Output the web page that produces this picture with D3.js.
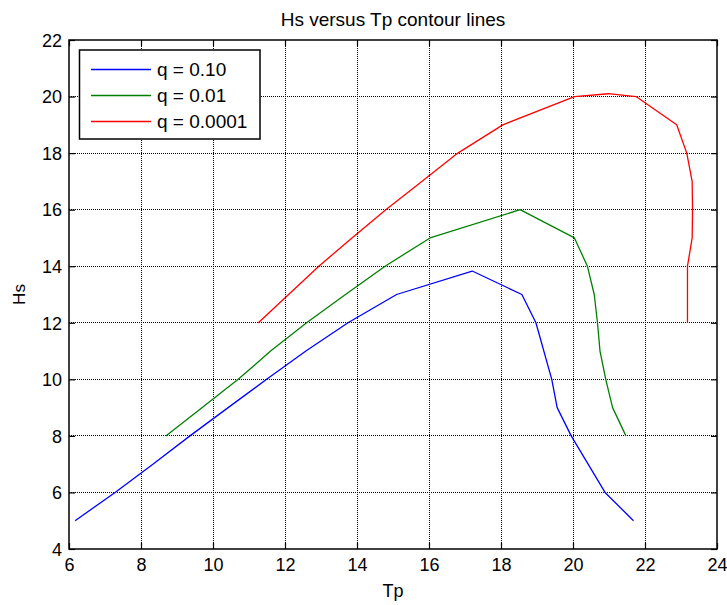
<!DOCTYPE html>
<html>
<head>
<meta charset="utf-8">
<script src="https://cdn.jsdelivr.net/npm/d3@7"></script>
<style>
  html, body { margin: 0; padding: 0; background: #fff; }
  svg { display: block; }
  text { font-family: Arial, "Liberation Sans", Helvetica, sans-serif; fill: #000; }
</style>
</head>
<body>
<svg id="chart" width="727" height="605"></svg>
<script>
// ---- data ----
const titleText = "Hs versus Tp contour lines";
const xLabel = "Tp";
const yLabel = "Hs";
const xTicks = [6, 8, 10, 12, 14, 16, 18, 20, 22, 24];
const yTicks = [4, 6, 8, 10, 12, 14, 16, 18, 20, 22];
const seriesNames = ["q = 0.10", "q = 0.01", "q = 0.0001"];
const seriesColors = ["#0000ff", "#008000", "#ff0000"];

const tpQ10 = [6.17, 7.28, 8.33, 9.36, 10.42, 11.49, 12.58, 13.75, 15.10, 17.20, 18.58, 18.97, 19.41, 19.56, 19.95, 20.89, 21.68];
const hsQ10 = [5, 6, 7, 8, 9, 10, 11, 12, 13, 13.83, 13, 12, 10, 9, 8, 6, 5];

const tpQ01 = [8.69, 9.7, 10.7, 11.6, 12.6, 13.68, 14.78, 16.03, 18.53, 20.04, 20.4, 20.59, 20.68, 20.75, 20.91, 21.10, 21.47];
const hsQ01 = [8, 9, 10, 11, 12, 13, 14, 15, 16, 15, 14, 13, 12, 11, 10, 9, 8];

const tpQ0001 = [11.26, 12.1, 12.94, 13.86, 14.8, 15.8, 16.8, 18.05, 20.04, 20.98, 21.75, 22.88, 23.16, 23.31, 23.32, 23.31, 23.18, 23.18, 23.18];
const hsQ0001 = [12, 13, 14, 15, 16, 17, 18, 19, 20, 20.1, 20, 19, 18, 17, 16, 15, 14, 13, 12];

const seriesTp = [tpQ10, tpQ01, tpQ0001];
const seriesHs = [hsQ10, hsQ01, hsQ0001];

// ---- layout ----
const pL = 69, pR = 717, pT = 40, pB = 549;
const svg = d3.select("#chart");
const x = d3.scaleLinear().domain([6, 24]).range([pL, pR]);
const y = d3.scaleLinear().domain([4, 22]).range([pB, pT]);

// grid
const grid = svg.append("g");
grid.selectAll("line.gx").data(xTicks.slice(1, -1)).enter().append("line")
  .attr("x1", d => x(d)).attr("x2", d => x(d))
  .attr("y1", pT).attr("y2", pB)
  .attr("stroke", "#000").attr("stroke-width", 1).attr("stroke-dasharray", "1,1")
  .attr("shape-rendering", "crispEdges");
grid.selectAll("line.gy").data(yTicks.slice(1, -1)).enter().append("line")
  .attr("y1", d => y(d)).attr("y2", d => y(d))
  .attr("x1", pL).attr("x2", pR)
  .attr("stroke", "#000").attr("stroke-width", 1).attr("stroke-dasharray", "1,1")
  .attr("shape-rendering", "crispEdges");

// axes with inward ticks
const fs = 18;
const xAxisB = d3.axisBottom(x).tickValues(xTicks).tickSize(-6).tickPadding(12).tickFormat(d3.format("d"));
const xAxisT = d3.axisTop(x).tickValues(xTicks).tickSize(-6).tickFormat("");
const yAxisL = d3.axisLeft(y).tickValues(yTicks).tickSize(-6).tickPadding(12).tickFormat(d3.format("d"));
const yAxisR = d3.axisRight(y).tickValues(yTicks).tickSize(-6).tickFormat("");

function styleAxis(g) {
  g.select(".domain").remove();
  g.selectAll(".tick line").attr("stroke", "#000").attr("stroke-width", 1.2);
  g.selectAll(".tick text").attr("font-size", fs).attr("font-family", "Arial, 'Liberation Sans', sans-serif").attr("fill", "#000");
}
svg.append("g").attr("transform", `translate(0,${pB})`).call(xAxisB).call(styleAxis)
  .selectAll(".tick text").attr("dy", "0.71em").attr("y", 9);
svg.append("g").attr("transform", `translate(0,${pT})`).call(xAxisT).call(styleAxis);
svg.append("g").attr("transform", `translate(${pL},0)`).call(yAxisL).call(styleAxis)
  .selectAll(".tick text").attr("x", -7).attr("dy", "0.35em");
svg.append("g").attr("transform", `translate(${pR},0)`).call(yAxisR).call(styleAxis);

// box
svg.append("rect").attr("x", pL).attr("y", pT).attr("width", pR - pL).attr("height", pB - pT)
  .attr("fill", "none").attr("stroke", "#000").attr("stroke-width", 1.5);

// series lines
const line = d3.line().x(d => x(d[0])).y(d => y(d[1]));
seriesTp.forEach((tp, i) => {
  const pts = tp.map((v, j) => [v, seriesHs[i][j]]);
  svg.append("path").datum(pts).attr("d", line)
    .attr("fill", "none").attr("stroke", seriesColors[i]).attr("stroke-width", 1.3)
    .attr("stroke-linejoin", "round");
});

// title & labels
svg.append("text").attr("x", (pL + pR) / 2).attr("y", 26).attr("text-anchor", "middle")
  .attr("font-size", 19).text(titleText);
svg.append("text").attr("x", (pL + pR) / 2).attr("y", 597).attr("text-anchor", "middle")
  .attr("font-size", 18).text(xLabel);
svg.append("text").attr("transform", `translate(25,${(pT + pB) / 2}) rotate(-90)`)
  .attr("text-anchor", "middle").attr("font-size", 17).text(yLabel);

// legend
const lg = svg.append("g");
lg.append("rect").attr("x", 79.5).attr("y", 50).attr("width", 180.5).attr("height", 89)
  .attr("fill", "#fff").attr("stroke", "#000").attr("stroke-width", 1.5);
seriesNames.forEach((name, i) => {
  const yy = 69.5 + i * 26;
  lg.append("line").attr("x1", 91).attr("x2", 151).attr("y1", yy).attr("y2", yy)
    .attr("stroke", seriesColors[i]).attr("stroke-width", 1.3);
  lg.append("text").attr("x", 157).attr("y", yy).attr("dy", "0.36em")
    .attr("font-size", 19).text(name);
});
</script>
</body>
</html>
